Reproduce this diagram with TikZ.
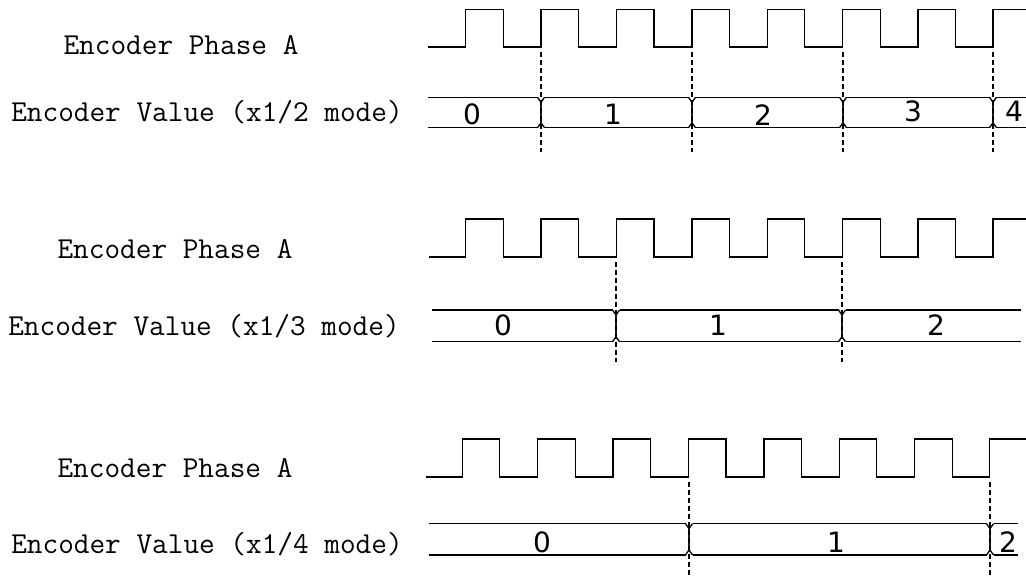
\documentclass[tikz,border=0pt]{standalone}
\usepackage{fontspec}
\newfontfamily\digitfont{DejaVu Sans}

\begin{document}
\begin{tikzpicture}  % ------ Codeur : phase A et valeur du compteur --------------
      [x={(0.5pt,0)},y={(0,-0.5pt)}, line width=0.65pt,
       etiq/.style={anchor=base, inner sep=0pt, font=\ttfamily\fontsize{15.2}{18}\selectfont},
       chiffre/.style={anchor=base, inner sep=0pt, font=\digitfont\fontsize{14}{16}\selectfont},
       repere/.style={line width=0.6pt, dash pattern=on 2.5pt off 1.5pt}]

    \useasboundingbox (0,0) rectangle (1026,577);

    % ------ x1/2 ------
    \draw (428,47) \foreach \k in {0,...,6} { -- ({465.7+75.4*\k},47) -- ++(0,-37.5) -- ++(37.5,0) -- ++(0,37.5) } -- (993,47) -- (993,9.5) -- (1026,9.5);
    \foreach \a/\b in {428/538, 544/689, 695/840, 846/990, 996/1026} { \draw (\a,97.3) -- (\b,97.3); \draw (\a,127.7) -- (\b,127.7); }
    \foreach \t in {541,692,843,993} {
      \draw (\t-3.5,97.3) -- (\t,102.3) -- (\t,122.7) -- (\t+3.5,127.7);
      \draw (\t-3.5,127.7) -- (\t,122.7) -- (\t,102.3) -- (\t+3.5,97.3);
      \draw[repere] (\t,52) -- (\t,152); }

    \node[etiq] (phaseA1) at (181,55) {Encoder Phase A};
    \node[etiq] (valeur1) at (207,122) {Encoder Value (x1/2 mode)};
    \node[chiffre] (n10) at (472,125) {0}; \node[chiffre] (n11) at (613,125) {1};
    \node[chiffre] (n12) at (763,126) {2}; \node[chiffre] (n13) at (913,122) {3};
    \node[chiffre] (n14) at (1014,122) {4};

    % ------ x1/3 ------
    \draw (429,257) \foreach \k in {0,...,6} { -- ({465.7+75.4*\k},257) -- ++(0,-38) -- ++(37.5,0) -- ++(0,38) } -- (993,257) -- (993,219) -- (1026,219);
    \foreach \a/\b in {432/612.5, 619.5/838.5, 845.5/1021} { \draw (\a,310) -- (\b,310); \draw (\a,341.7) -- (\b,341.7); }
    \foreach \t in {616,842} {
      \draw (\t-3.5,310) -- (\t,315) -- (\t,336.7) -- (\t+3.5,341.7);
      \draw (\t-3.5,341.7) -- (\t,336.7) -- (\t,315) -- (\t+3.5,310);
      \draw[repere] (\t,262) -- (\t,362); }

    \node[etiq] (phaseA2) at (175,258.5) {Encoder Phase A};
    \node[etiq] (valeur2) at (204,335.5) {Encoder Value (x1/3 mode)};
    \node[chiffre] (n20) at (503,335) {0}; \node[chiffre] (n21) at (718,335) {1};
    \node[chiffre] (n22) at (936,335) {2};

    % ------ x1/4 ------
    \draw (426,477) \foreach \k in {0,...,6} { -- ({462.3+75.4*\k},477) -- ++(0,-38) -- ++(37.5,0) -- ++(0,38) } -- (989.6,477) -- (989.6,439) -- (1026,439);
    \foreach \a/\b in {429/685.5, 692.5/986.5, 993.5/1018} { \draw (\a,523.7) -- (\b,523.7); \draw (\a,555) -- (\b,555); }
    \foreach \t in {689,990} {
      \draw (\t-3.5,523.7) -- (\t,528.7) -- (\t,550) -- (\t+3.5,555);
      \draw (\t-3.5,555) -- (\t,550) -- (\t,528.7) -- (\t+3.5,523.7);
      \draw[repere] (\t,482) -- (\t,577); }

    \node[etiq] (phaseA3) at (175,477.5) {Encoder Phase A};
    \node[etiq] (valeur3) at (207,553.5) {Encoder Value (x1/4 mode)};
    \node[chiffre] (n30) at (542,552) {0}; \node[chiffre] (n31) at (836,552) {1};
    \node[chiffre] (n32) at (1008,552) {2};
\end{tikzpicture}
\end{document}
